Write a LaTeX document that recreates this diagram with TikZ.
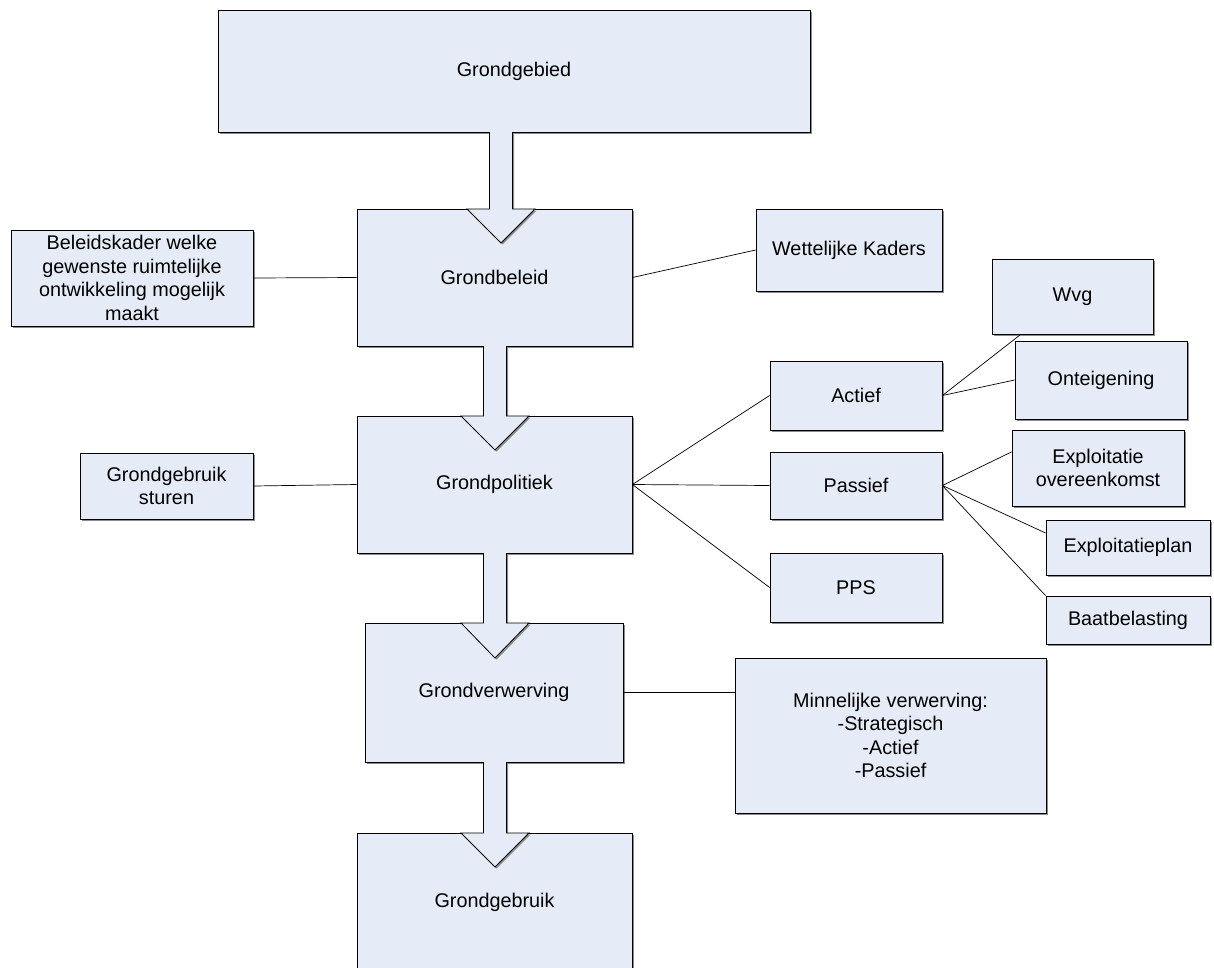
\documentclass[tikz,border=0pt]{standalone}
\usepackage{fontspec}
\setmainfont{Liberation Sans}
\usetikzlibrary{calc,shadows}
\definecolor{boxfill}{HTML}{E6ECF7}
\definecolor{shadowgray}{HTML}{8C8C8C}
\tikzset{
  box/.style={draw=black, line width=0.8pt, fill=boxfill, rectangle, inner sep=2pt,
    align=center, font=\fontsize{19.8}{23.5}\selectfont,
    drop shadow={shadow xshift=1.6pt, shadow yshift=-1.6pt, fill=shadowgray, opacity=1}},
  conn/.style={draw=black, line width=0.7pt},
  barrow/.style={draw=black, line width=0.8pt, fill=boxfill, line join=miter,
    drop shadow={shadow xshift=1.6pt, shadow yshift=-1.6pt, fill=shadowgray, opacity=1}}
}
\newcommand{\mybox}[7][]{%
  \pgfmathsetmacro{\bw}{#5-#3}\pgfmathsetmacro{\bh}{#6-#4}%
  \pgfmathsetmacro{\bcx}{(#3+#5)/2}\pgfmathsetmacro{\bcy}{(#4+#6)/2}%
  \node[box, minimum width=\bw pt, minimum height=\bh pt, #1] (#2) at (\bcx,\bcy) {#7};}
% block arrow: center x, top y, shoulder y, tip y
\newcommand{\myarrow}[4]{%
  \draw[barrow] ({#1-11.5},#2) -- ({#1-11.5},#3) -- ({#1-34},#3) -- (#1,#4)
    -- ({#1+34},#3) -- ({#1+11.5},#3) -- ({#1+11.5},#2);}
\begin{document}
\begin{tikzpicture}[x=1pt,y=-1pt]
\useasboundingbox[fill=white] (0,0) rectangle (1214,967);
% main column
\mybox{gg}{218}{10}{810}{132}{Grondgebied}
\mybox{gb}{357}{209}{632}{346}{Grondbeleid}
\mybox{gp}{357}{416}{632}{553}{Grondpolitiek}
\mybox{gv}{365}{623}{623}{762}{Grondverwerving}
\mybox{gu}{357}{833}{632}{972}{Grondgebruik}
% side boxes
\mybox{bk}{11}{230}{253}{326}{Beleidskader welke\\gewenste ruimtelijke\\ontwikkeling mogelijk\\maakt}
\mybox{wk}{756}{209}{942}{291}{Wettelijke Kaders}
\mybox{gs}{80}{453}{253}{519}{Grondgebruik\\sturen}
\mybox{ac}{770}{361}{942}{430}{Actief}
\mybox{pa}{770}{452}{942}{519}{Passief}
\mybox{pps}{770}{553}{942}{622}{PPS}
\mybox{wvg}{992}{259}{1153}{334}{Wvg}
\mybox{on}{1015}{341}{1187}{419}{Onteigening}
\mybox{eo}{1012}{430}{1184}{506}{Exploitatie\\overeenkomst}
\mybox{ep}{1046}{520}{1210}{575}{Exploitatieplan}
\mybox{bb}{1046}{596}{1210}{644}{Baatbelasting}
\mybox{mv}{735}{658}{1046}{813}{Minnelijke verwerving:\\-Strategisch\\-Actief\\-Passief}
% block arrows
\myarrow{501}{132}{209}{243}
\myarrow{495}{346}{416}{450}
\myarrow{495}{553}{623}{658}
\myarrow{495}{762}{833}{867}
% connectors
\draw[conn] (gb.west) -- (bk.east);
\draw[conn] (gb.east) -- (wk.west);
\draw[conn] (gp.west) -- (gs.east);
\draw[conn] (gp.east) -- (ac.west);
\draw[conn] (gp.east) -- (pa.west);
\draw[conn] (gp.east) -- (pps.west);
\draw[conn] (ac.east) -- ($(wvg.south west)!0.18!(wvg.south east)$);
\draw[conn] (ac.east) -- (on.west);
\draw[conn] (pa.east) -- ($(eo.north west)!0.29!(eo.south west)$);
\draw[conn] (pa.east) -- ($(ep.north west)!0.24!(ep.south west)$);
\draw[conn] (pa.east) -- (bb.north west);
\draw[conn] (gv.east) -- (mv.west |- gv.east);
\end{tikzpicture}
\end{document}
